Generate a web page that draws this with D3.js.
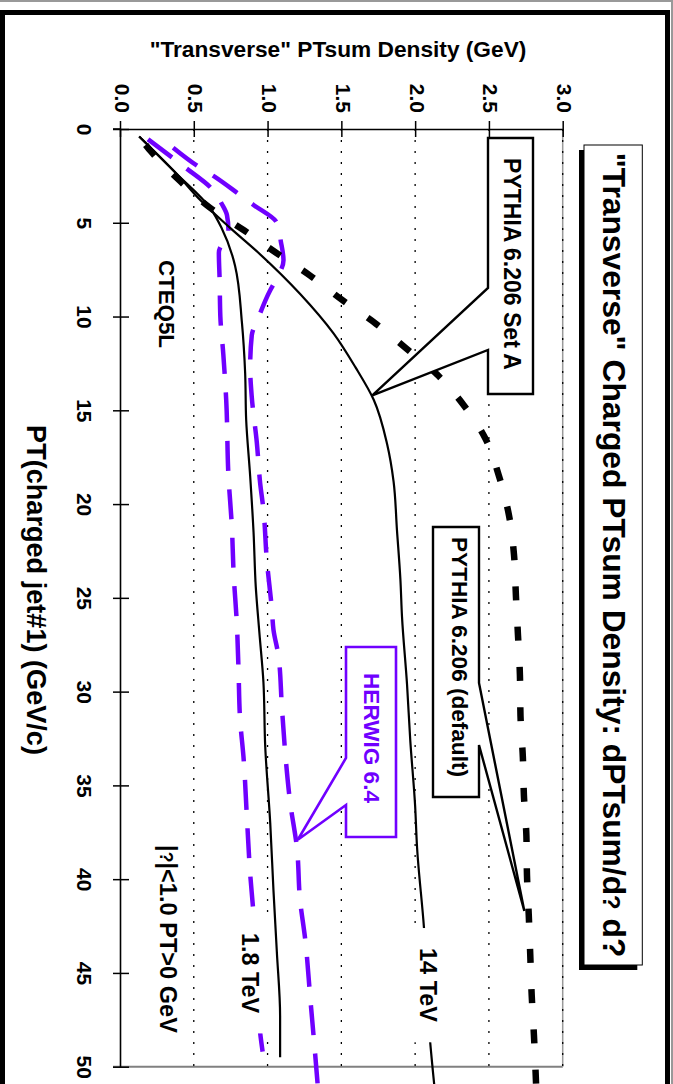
<!DOCTYPE html>
<html><head><meta charset="utf-8">
<script src="https://cdn.jsdelivr.net/npm/d3@7"></script>
<style>
html,body{margin:0;padding:0;background:#fff;}
svg{display:block;}
text{font-family:'Liberation Sans',Arial,Helvetica,sans-serif;font-weight:bold;}
</style>
</head><body>
<svg id="c" width="673" height="1084"></svg>
<script>
// ---------- data ----------
const ptTicks = [0,5,10,15,20,25,30,35,40,45,50];
const densTicks = [0.0,0.5,1.0,1.5,2.0,2.5,3.0];
const gridValues = [0.5,1.0,1.5,2.0,2.5,3.0];

// PYTHIA 6.206 Set A, 1.8 TeV (solid)
const setA18_pt  = [0.4, 2.4, 4.2, 5.3, 7.3, 10.3, 13.0, 15.5, 18.5, 21.5, 24.4, 26.9, 29.5, 32.9, 37.0, 40.6, 43.9, 47.3, 49.5];
const setA18_val = [0.13,0.385,0.61,0.69,0.78,0.826,0.848,0.855,0.882,0.905,0.92,0.945,0.972,0.984,1.018,1.04,1.063,1.085,1.085];

// PYTHIA 6.206 Set A, 14 TeV (solid)
const setA14_pt  = [0.4, 2.4, 3.8, 5.3, 6.6, 8.8, 10.9, 12.7, 14.45, 16.8, 18.8, 21.4, 24.0, 26.0, 29.6, 32.6, 36.1, 38.3, 42.6, 48.5, 51.0];
const setA14_val = [0.13,0.385,0.545,0.75,0.938,1.221,1.447,1.595,1.72,1.81,1.854,1.877,1.90,1.911,1.945,1.967,2.0,2.013,2.06,2.10,2.13];

// PYTHIA 6.206 default, 14 TeV (thick dashed)
const def14_pt  = [0.5, 1.2, 2.8, 4.2, 5.4, 6.6, 7.8, 9.1, 10.4, 11.7, 13.1, 14.7, 16.5, 18.5, 20.6, 22.7, 24.9, 27.0, 29.1, 31.3, 33.5, 35.5, 37.7, 39.8, 41.9, 44.0, 46.2, 48.3, 51.0];
const def14_val = [0.14,0.21,0.41,0.61,0.84,1.058,1.286,1.503,1.737,1.94,2.15,2.327,2.476,2.568,2.636,2.67,2.683,2.697,2.71,2.714,2.73,2.737,2.754,2.758,2.77,2.78,2.79,2.805,2.82];

// HERWIG 6.4, 14 TeV (purple dashed, upper)
const her14_pt  = [1.0, 2.0, 2.5, 3.5, 4.05, 5.0, 6.0, 7.0, 8.0, 8.6, 10.1, 11.0, 12.7, 14.3, 16.7, 18.9, 20.3, 23.0, 25.6, 26.7, 28.1, 30.8, 33.3, 35.9, 38.4, 41.1, 43.2, 46.4, 49.1, 51.0];
const her14_val = [0.36,0.53,0.633,0.81,0.905,1.063,1.09,1.108,1.06,1.018,0.936,0.893,0.882,0.893,0.927,0.95,0.972,0.995,1.029,1.04,1.074,1.097,1.12,1.153,1.2,1.22,1.255,1.29,1.32,1.34];

// HERWIG 6.4, 1.8 TeV (purple dashed, lower)
const her18_pt  = [0.55, 1.56, 2.1, 3.17, 4.0, 4.6, 5.4, 6.6, 8.0, 10.0, 12.0, 14.5, 18.5, 21.2, 23.7, 26.4, 28.8, 31.5, 33.5, 36.7, 39.7, 41.8, 45.0, 48.2, 49.5];
const her18_val = [0.19,0.36,0.45,0.62,0.69,0.725,0.735,0.67,0.675,0.68,0.70,0.72,0.735,0.758,0.77,0.792,0.803,0.814,0.837,0.86,0.882,0.904,0.925,0.95,0.972];

// ---------- layout ----------
const PURPLE = '#7000ff';
const svg = d3.select('#c');
const X0 = 120, X1 = 562.7, Y0 = 129, Y1 = 1066.7;
const x = d3.scaleLinear().domain([0,3]).range([X0,X1]);   // density -> horizontal
const y = d3.scaleLinear().domain([0,50]).range([Y0,Y1]);  // PT -> vertical

svg.append('rect').attr('width',673).attr('height',1084).attr('fill','#fff');

// outer frame
svg.append('line').attr('x1',0).attr('x2',673).attr('y1',1).attr('y2',1).attr('stroke','#999').attr('stroke-width',2);
svg.append('line').attr('x1',672).attr('x2',672).attr('y1',0).attr('y2',1084).attr('stroke','#999').attr('stroke-width',2);
svg.append('path').attr('d','M2.5,1084 L2.5,12.5 L667.5,12.5 L667.5,1084')
  .attr('fill','none').attr('stroke','#000').attr('stroke-width',5);

// plot border (gray) and gridlines
svg.append('line').attr('x1',113).attr('x2',X1).attr('y1',Y1).attr('y2',Y1).attr('stroke','#808080').attr('stroke-width',2);
svg.append('line').attr('x1',X1).attr('x2',X1).attr('y1',Y0).attr('y2',Y1).attr('stroke','#999').attr('stroke-width',1.5);
svg.append('g').selectAll('line').data(gridValues).join('line')
  .attr('x1',d=>x(d)).attr('x2',d=>x(d)).attr('y1',Y0).attr('y2',Y1)
  .attr('stroke','#000').attr('stroke-width',1.3).attr('stroke-dasharray','2,9');

// axes
const axL = svg.append('g').attr('transform',`translate(${X0},0)`)
  .call(d3.axisLeft(y).tickValues(ptTicks).tickSize(0).tickPadding(0).tickFormat(d3.format('d')));
axL.select('.domain').attr('stroke','#000').attr('stroke-width',1.6);
axL.selectAll('.tick line').attr('x1',-7).attr('x2',9).attr('stroke','#000').attr('stroke-width',1.5);
axL.selectAll('.tick text').attr('x',null).attr('dy',null).attr('y',null)
  .attr('text-anchor','middle').attr('fill','#000')
  .attr('font-size',21).attr('font-family',"'Liberation Sans',Arial,sans-serif").attr('font-weight','bold')
  .attr('transform','translate(-43,0) rotate(90)');

const axT = svg.append('g').attr('transform',`translate(0,${Y0})`)
  .call(d3.axisTop(x).tickValues(densTicks).tickSize(0).tickPadding(0).tickFormat(d3.format('.1f')));
axT.select('.domain').attr('stroke','#000').attr('stroke-width',1.6);
axT.selectAll('.tick line').attr('y1',-8).attr('y2',8).attr('stroke','#000').attr('stroke-width',1.5);
axT.selectAll('.tick text').attr('x',null).attr('dy',null).attr('y',null)
  .attr('text-anchor','end').attr('fill','#000')
  .attr('font-size',21).attr('font-family',"'Liberation Sans',Arial,sans-serif").attr('font-weight','bold')
  .attr('transform','translate(-6,-16) rotate(90)');
svg.append('line').attr('x1',113).attr('x2',X0).attr('y1',Y0).attr('y2',Y0).attr('stroke','#000').attr('stroke-width',1.6);

// curves
const line = d3.line().x(d=>x(d[1])).y(d=>y(d[0])).curve(d3.curveMonotoneY);
const zip = (a,b)=>a.map((v,i)=>[v,b[i]]);
const plot = svg.append('g');
plot.append('path').datum(zip(her18_pt,her18_val)).attr('d',line)
  .attr('fill','none').attr('stroke',PURPLE).attr('stroke-width',4.5).attr('stroke-dasharray','30,18.5');
plot.append('path').datum(zip(her14_pt,her14_val)).attr('d',line)
  .attr('fill','none').attr('stroke',PURPLE).attr('stroke-width',4.5).attr('stroke-dasharray','30,18.5');
plot.append('path').datum(zip(setA18_pt,setA18_val)).attr('d',line)
  .attr('fill','none').attr('stroke','#000').attr('stroke-width',2.2);
plot.append('path').datum(zip(setA14_pt,setA14_val)).attr('d',line)
  .attr('fill','none').attr('stroke','#000').attr('stroke-width',2.2);
plot.append('path').datum(zip(def14_pt,def14_val)).attr('d',line)
  .attr('fill','none').attr('stroke','#000').attr('stroke-width',6.5)
  .attr('stroke-dasharray','14,26.3').attr('stroke-dashoffset',32);

// helpers
function fit(t, len){
  const cur = t.node().getComputedTextLength();
  const fs = parseFloat(t.attr('font-size'));
  t.attr('font-size', fs*len/cur);
}
function rotLabel(bx, cy, parts, len, color, bg){
  const g = svg.append('g').attr('transform',`translate(${bx},${cy}) rotate(90)`);
  const r = bg ? g.append('rect').attr('fill','#fff') : null;
  const t = g.append('text').attr('text-anchor','middle').attr('font-size',22).attr('fill',color||'#000');
  parts.forEach(p=>{
    const s = t.append('tspan').text(p.t);
    if(p.small) s.attr('font-size','0.75em');
  });
  fit(t,len);
  if(r){
    const b = t.node().getBBox();
    r.attr('x',b.x-20).attr('width',b.width+40).attr('y',b.y-6).attr('height',b.height+8);
  }
  return t;
}

// title box
svg.append('rect').attr('x',579).attr('y',150).attr('width',58.3).attr('height',820).attr('fill','#000');
svg.append('rect').attr('x',584).attr('y',145).attr('width',58.3).attr('height',820).attr('fill','#fff').attr('stroke','#000').attr('stroke-width',1);
rotLabel(603, 555, [{t:'"Transverse" Charged PTsum Density: dPTsum/d'},{t:'?',small:true},{t:' d?'}], 805);

// callouts
svg.append('path').attr('d',`M488,138 L533,138 L533,394 L488,394 L488,350 L${x(1.71)},${y(14.2)} L488,288 Z`)
  .attr('fill','#fff').attr('stroke','#000').attr('stroke-width',2.4).attr('stroke-linejoin','miter');
rotLabel(504, 264, [{t:'PYTHIA 6.206 Set A'}], 212);

svg.append('path').attr('d',`M433,527 L479,527 L479,683 L${x(2.74)},${y(41.7)} L479,745 L479,797 L433,797 Z`)
  .attr('fill','#fff').attr('stroke','#000').attr('stroke-width',2.4);
rotLabel(452, 657, [{t:'PYTHIA 6.206  (default)'}], 240);

svg.append('path').attr('d',`M346,647 L396,647 L396,837 L346,837 L346,805 L${x(1.205)},${y(37.9)} L346,758 Z`)
  .attr('fill','#fff').attr('stroke',PURPLE).attr('stroke-width',2.6);
rotLabel(364, 738, [{t:'HERWIG 6.4'}], 130, PURPLE);

// other labels
rotLabel(159, 304, [{t:'CTEQ5L'}], 88);
rotLabel(160, 939, [{t:'|'},{t:'?',small:true},{t:'|<1.0 PT>0 GeV'}], 188);
rotLabel(242, 973, [{t:'1.8 TeV'}], 80, '#000', true);
rotLabel(420, 985, [{t:'14 TeV'}], 74, '#000', true);

// axis titles
rotLabel(27, 590, [{t:'PT(charged jet#1)  (GeV/c)'}], 330);
const ht = svg.append('text').attr('x',338).attr('y',57).attr('text-anchor','middle').attr('font-size',22)
  .text('"Transverse" PTsum Density (GeV)');
fit(ht,377);
</script>
</body></html>
